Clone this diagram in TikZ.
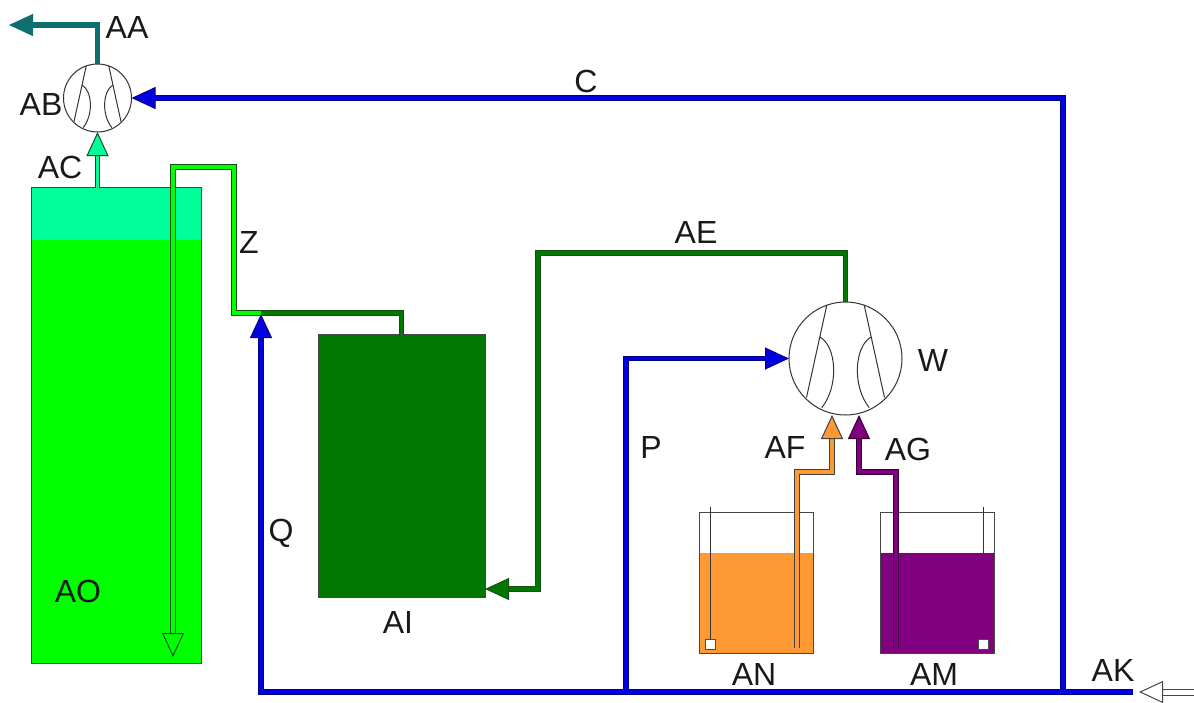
\documentclass[tikz,border=0pt]{standalone}
\usepackage{xcolor}
\usepackage{fontspec}
\setmainfont{Liberation Sans}
\usetikzlibrary{arrows.meta}

\definecolor{headgreen}{RGB}{0,255,153}
\definecolor{tankgreen}{RGB}{0,255,0}
\definecolor{drumgreen}{RGB}{0,120,0}
\definecolor{darkline}{RGB}{20,80,20}
\definecolor{flueteal}{RGB}{15,110,110}
\definecolor{airblue}{RGB}{0,0,225}
\definecolor{airnavy}{RGB}{0,0,130}
\definecolor{baseorange}{RGB}{255,153,51}
\definecolor{acidpurple}{RGB}{128,0,128}
\definecolor{edgegrey}{RGB}{70,70,70}

\tikzset{
  pipe/.style n args={2}{draw=#2, double=#1, double distance=3.4pt, line width=1pt},
  airpipe/.style={pipe={airblue}{airnavy}},
  tip/.style={-{Triangle[length=24pt, width=22pt, line width=1pt, fill=#1]}},
  tank/.style={draw=edgegrey, line width=1pt, rectangle, inner sep=0pt, outer sep=0pt},
  fan/.style={draw=black!80, line width=1pt, fill=white, circle, inner sep=0pt, outer sep=0pt, minimum size=#1},
  blade/.style={draw=black!80, line width=1pt},
  lbl/.style={font=\fontsize{32}{32}\selectfont, text=black!90, inner sep=0pt}
}

\newcommand{\fanblades}[2]{
  \begin{scope}[shift={(#1.center)}, x=#2pt, y=-#2pt]
    \foreach \s in {-1,1} {
      \draw[blade] ({\s*.33},-.95) -- ({\s*.69},.69);
      \draw[blade] ({\s*.45},-.38) .. controls ({\s*.15},-.2) and ({\s*.12},.5) .. ({\s*.42},.87);
    }
  \end{scope}
}

\begin{document}
\begin{tikzpicture}[x=1pt, y=-1pt]
\useasboundingbox (0,0) rectangle (1194,702);

\fill[headgreen] (31.5,187.5) rectangle (201.5,240);
\fill[tankgreen] (31.5,240) rectangle (201.5,663);
\fill[baseorange] (699.5,553) rectangle (813,653);
\fill[acidpurple] (880.5,553) rectangle (994.5,653);

\node[tank, minimum width=170pt, minimum height=475.5pt] (AOtank) at (116.5,425.25) {};
\node[tank, fill=drumgreen, minimum width=167pt, minimum height=263pt] (AItank) at (401.5,465.5) {};
\node[tank, minimum width=113.5pt, minimum height=141pt] (ANtank) at (756.25,582.5) {};
\node[tank, minimum width=114pt, minimum height=141pt] (AMtank) at (937.5,582.5) {};

\node[fan=68pt] (ABfan) at (97.5,98) {};
\node[fan=113pt] (Wfan) at (845.5,358.5) {};
\fanblades{ABfan}{34}
\fanblades{Wfan}{56.5}

\coordinate (AAout) at (9,25);
\coordinate (AAbend) at (97.5,25);
\coordinate (Cbend) at (1063,98);
\coordinate (Cstart) at (1063,692);
\coordinate (Pstart) at (626,692);
\coordinate (Pbend) at (626,358.5);
\coordinate (Qbend) at (261,692);
\coordinate (Qend) at (261,314);
\coordinate (AKend) at (1133,692);
\coordinate (AKin) at (1194,692);
\coordinate (AKtip) at (1139,692);
\coordinate (Zend) at (173,657);
\coordinate (Zup) at (173,167);
\coordinate (Zover) at (234,167);
\coordinate (Zjoin) at (234,313);
\coordinate (Zmeet) at (261,313);
\coordinate (AEtop) at (845.5,253);
\coordinate (AEleft) at (538,253);
\coordinate (AEdown) at (538,589);
\coordinate (AFstart) at (797,648);
\coordinate (AFbend) at (797,472);
\coordinate (AFturn) at (832,472);
\coordinate (AFtip) at (832,415);
\coordinate (AGstart) at (896,648);
\coordinate (AGbend) at (896,472);
\coordinate (AGturn) at (859,472);
\coordinate (AGtip) at (859,415);

\draw[pipe={headgreen}{darkline}, double distance=2.6pt, tip=headgreen] (AOtank.north -| ABfan.south) -- (ABfan.south);
\draw[pipe={flueteal}{flueteal}, tip=flueteal] (ABfan.north) -- (AAbend) -- (AAout);

\draw[airpipe, tip=airblue] (Cstart) -- (Cbend) -- (ABfan.east);
\draw[airpipe, tip=airblue] (Pstart) -- (Pbend) -- (Wfan.west);
\draw[airpipe, tip=airblue] (AKend) -- (Qbend) -- (Qend);
\draw[pipe={white}{edgegrey}, double distance=5pt, tip=white] (AKin) -- (AKtip);

\draw[pipe={tankgreen}{darkline}, tip=tankgreen] (Zmeet) -- (Zjoin) -- (Zover) -- (Zup) -- (Zend);
\draw[pipe={drumgreen}{darkline}] (AItank.north) |- (Zmeet);
\draw[pipe={drumgreen}{darkline}, tip=drumgreen] (Wfan.north) -- (AEtop) -- (AEleft) -- (AEdown) -- (AItank.east |- AEdown);

\draw[pipe={baseorange}{black!75}, tip=baseorange] (AFstart) -- (AFbend) -- (AFturn) -- (AFtip);
\draw[pipe={acidpurple}{black!60!acidpurple}, tip=acidpurple] (AGstart) -- (AGbend) -- (AGturn) -- (AGtip);

\draw[blade] (710,507) -- (710,640);
\draw[blade] (983.5,507) -- (983.5,640);
\node[tank, draw=black!70, fill=white, minimum size=10pt] (ANfloat) at (710,644) {};
\node[tank, draw=black!70, fill=white, minimum size=10pt] (AMfloat) at (983.5,644) {};

\node[lbl] (lblAA) at (127,27) {AA};
\node[lbl] (lblAB) at (41,104) {AB};
\node[lbl] (lblAC) at (60,167) {AC};
\node[lbl] (lblZ) at (249,242) {Z};
\node[lbl] (lblC) at (586,81) {C};
\node[lbl] (lblAE) at (696,232) {AE};
\node[lbl] (lblW) at (933,360) {W};
\node[lbl] (lblP) at (651,447) {P};
\node[lbl] (lblAF) at (785,447) {AF};
\node[lbl] (lblAG) at (908,449) {AG};
\node[lbl] (lblQ) at (281,533) {Q};
\node[lbl] (lblAO) at (78,591) {AO};
\node[lbl] (lblAI) at (398,622) {AI};
\node[lbl] (lblAN) at (754,674) {AN};
\node[lbl] (lblAM) at (934,674) {AM};
\node[lbl] (lblAK) at (1113,670) {AK};
\end{tikzpicture}
\end{document}
